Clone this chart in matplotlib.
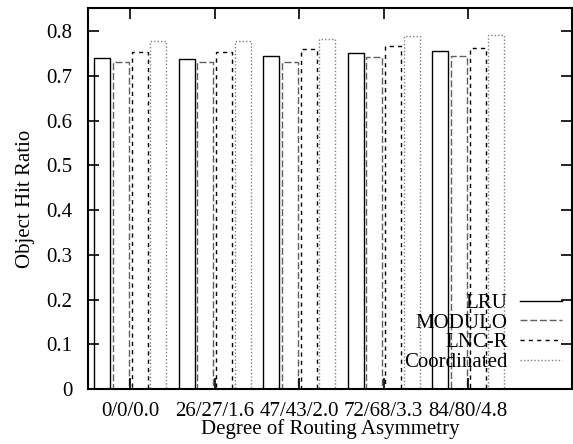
import numpy as np
import matplotlib
matplotlib.use('Agg')
import matplotlib.pyplot as plt
from matplotlib.lines import Line2D

plt.rcParams['font.family'] = ['Liberation Serif', 'DejaVu Serif']
plt.rcParams['font.size'] = 15

groups = ['0/0/0.0', '26/27/1.6', '47/43/2.0', '72/68/3.3', '84/80/4.8']
series = ['LRU', 'MODULO', 'LNC-R', 'Coordinated']
lru = [0.740, 0.738, 0.745, 0.751, 0.755]
modulo = [0.730, 0.730, 0.730, 0.742, 0.744]
lncr = [0.752, 0.752, 0.759, 0.766, 0.763]
coordinated = [0.777, 0.777, 0.783, 0.788, 0.791]

values = [lru, modulo, lncr, coordinated]
colors = ['black', '#606060', 'black', '#808080']
styles = ['-', (0, (5, 2)), (0, (3, 3)), (0, (1, 1.5))]
offsets = [-0.33, -0.11, 0.11, 0.33]

fig = plt.figure(figsize=(5.73, 4.44), dpi=100)
ax = fig.add_axes([88 / 573, 55 / 444, 484 / 573, 381 / 444])

x = np.arange(1, len(groups) + 1)
for vals, c, ls, off in zip(values, colors, styles, offsets):
    ax.bar(x + off, vals, width=0.19, fill=False, edgecolor=c,
           linestyle=ls, linewidth=1.0)

ax.set_xlim(0.5, 0.5 + 484 / 84.5)
ax.set_ylim(0, 0.8514)
ax.set_xticks(x)
ax.set_xticklabels(groups)
ax.set_yticks(np.arange(0, 0.81, 0.1))
ax.set_yticklabels(['0'] + ['%.1f' % v for v in np.arange(0.1, 0.81, 0.1)])
ax.tick_params(axis='both', direction='in', length=8, width=1.2,
               top=True, right=True)
ax.tick_params(axis='y', pad=11)
ax.tick_params(axis='x', pad=9)
for s in ax.spines.values():
    s.set_linewidth(1.5)

ax.set_xlabel('Degree of Routing Asymmetry', labelpad=-1)
ax.set_ylabel('Object Hit Ratio', labelpad=8)

handles = [Line2D([], [], color=c, linestyle=ls, linewidth=1.0)
           for c, ls in zip(colors, styles)]
ax.legend(handles, series, loc='lower right', bbox_to_anchor=(0.979, 0.045),
          frameon=False, markerfirst=False, handlelength=2.0,
          handletextpad=0.6, labelspacing=0.0, borderpad=0, borderaxespad=0)

fig.savefig('out.png', dpi=100)
